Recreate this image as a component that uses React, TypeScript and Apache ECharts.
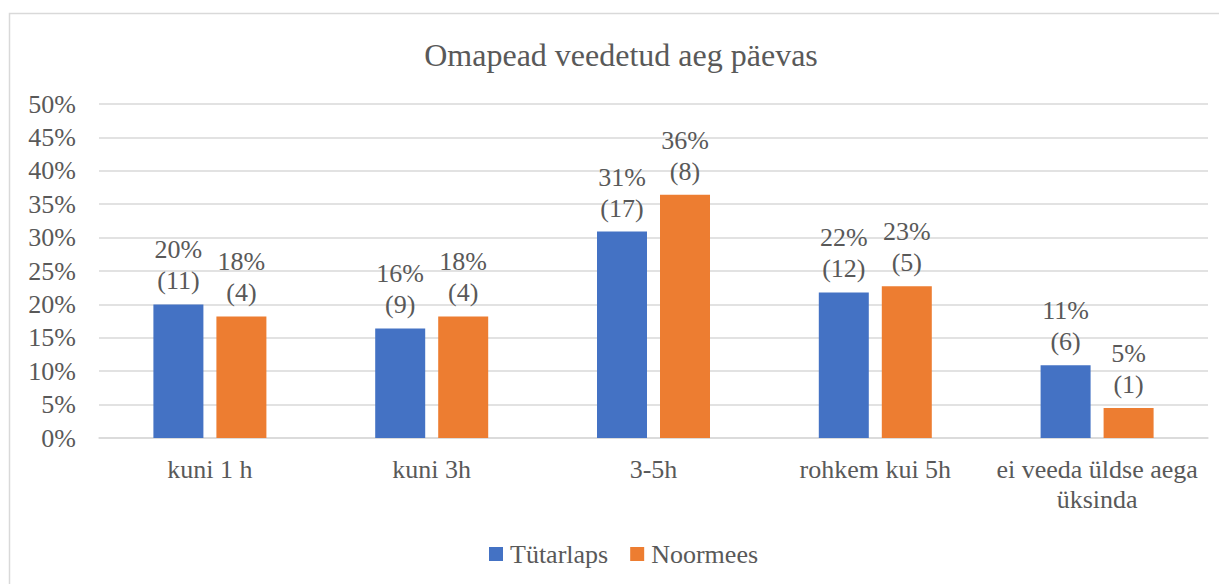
import React, { useEffect, useRef } from "react";
import * as echarts from "echarts";

const categories = ["kuni 1 h", "kuni 3h", "3-5h", "rohkem kui 5h", "ei veeda üldse aega\nüksinda"];
const seriesNames = ["Tütarlaps", "Noormees"];
const girlValues = [20.0, 16.4, 30.9, 21.8, 10.9];
const boyValues = [18.2, 18.2, 36.4, 22.7, 4.5];
const girlCounts = [11, 9, 17, 12, 6];
const boyCounts = [4, 4, 8, 5, 1];
const yTicks = [0, 5, 10, 15, 20, 25, 30, 35, 40, 45, 50];

const FONT = "Liberation Serif";
const TEXT = "#595959";

export default function App() {
  const ref = useRef<HTMLDivElement>(null);
  useEffect(() => {
    if (!ref.current) return;
    const chart = echarts.init(ref.current, null, { renderer: "svg" });
    const makeSeries = (name: string, values: number[], counts: number[], color: string) => ({
      name,
      type: "bar",
      data: values,
      barWidth: 50,
      barGap: "26%",
      itemStyle: { color },
      label: {
        show: true,
        position: "top",
        distance: 8,
        fontFamily: FONT,
        fontSize: 26,
        lineHeight: 31,
        color: TEXT,
        formatter: (p: any) => `${Math.round(values[p.dataIndex])}%\n(${counts[p.dataIndex]})`,
      },
    });
    chart.setOption({
      animation: false,
      textStyle: { fontFamily: FONT },
      graphic: [
        {
          type: "rect",
          shape: { x: 9.5, y: 13.5, width: 1300, height: 700 },
          style: { fill: "none", stroke: "#d9d9d9", lineWidth: 1.5 },
          silent: true,
          z: -10,
        },
        {
          type: "text",
          x: 621,
          y: 55,
          style: {
            text: "Omapead veedetud aeg päevas",
            fontFamily: FONT,
            fontSize: 32,
            fill: TEXT,
            textAlign: "center",
            textVerticalAlign: "middle",
          },
        },
      ],
      legend: {
        data: seriesNames,
        left: 484,
        top: 536,
        itemWidth: 14,
        itemHeight: 14,
        itemGap: 22,
        icon: "rect",
        textStyle: { fontFamily: FONT, fontSize: 26, color: TEXT, padding: [0, 0, 0, 2] },
      },
      grid: { left: 99, right: 11, top: 104, bottom: 146, containLabel: false },
      xAxis: {
        type: "category",
        data: categories,
        axisLine: { lineStyle: { color: "#d9d9d9", width: 1.5 } },
        axisTick: { show: false },
        axisLabel: {
          fontFamily: FONT,
          fontSize: 26,
          lineHeight: 30,
          color: TEXT,
          margin: 16,
          interval: 0,
        },
      },
      yAxis: {
        type: "value",
        min: yTicks[0],
        max: yTicks[yTicks.length - 1],
        interval: 5,
        axisLine: { show: false },
        axisTick: { show: false },
        splitLine: { lineStyle: { color: "#d9d9d9", width: 1.5 } },
        axisLabel: {
          fontFamily: FONT,
          fontSize: 26,
          color: TEXT,
          margin: 23,
          formatter: (v: number) => `${v}%`,
        },
      },
      series: [
        makeSeries(seriesNames[0], girlValues, girlCounts, "#4472C4"),
        makeSeries(seriesNames[1], boyValues, boyCounts, "#ED7D31"),
      ],
    });
    return () => chart.dispose();
  }, []);
  return (
    <div
      ref={ref}
      style={{ position: "fixed", left: 0, top: 0, width: 1219, height: 584, background: "#fff" }}
    />
  );
}
